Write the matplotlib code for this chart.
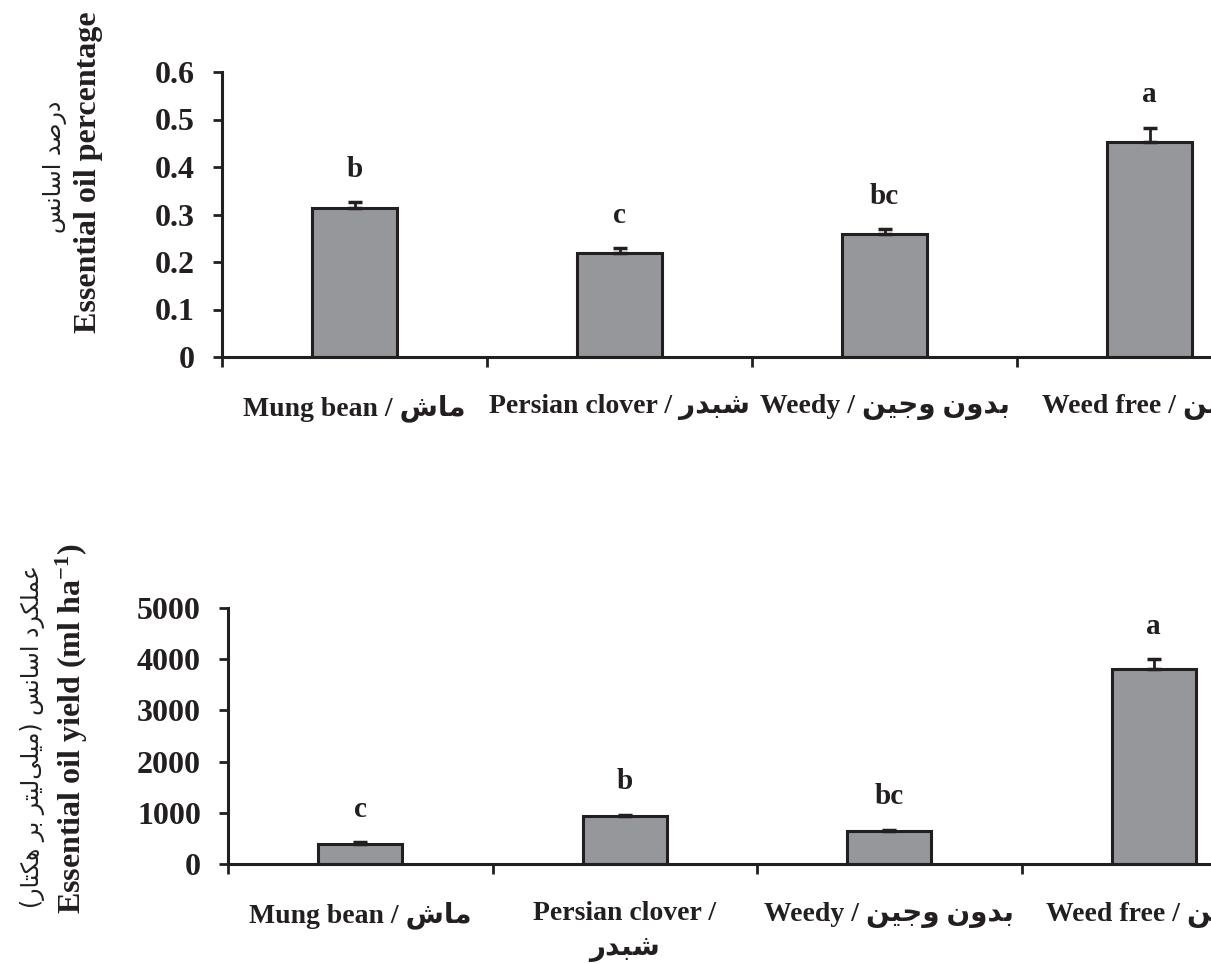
import numpy as np
import matplotlib.pyplot as plt

# treatments (English / Persian)
treatments = ['Mung bean', 'Persian clover', 'Weedy', 'Weed free']
treatments_fa = ['ماش', 'شبدر', 'بدون وجین', 'وجین']

# essential oil percentage
oil_pct = [0.314, 0.219, 0.259, 0.453]
oil_pct_se = [0.012, 0.010, 0.010, 0.030]
oil_pct_groups = ['b', 'c', 'bc', 'a']

# essential oil yield (ml/ha)
oil_yield = [385, 940, 640, 3800]
oil_yield_se = [45, 25, 30, 200]
oil_yield_groups = ['c', 'b', 'bc', 'a']

ylabel_pct = 'Essential oil percentage'
ylabel_pct_fa = 'درصد اسانس'
ylabel_yield = r'Essential oil yield (ml ha$^{-1}$)'
ylabel_yield_fa = 'عملکرد اسانس (میلی\u200cلیتر بر هکتار)'

INK = '#231f20'
BAR = '#96979b'

# matplotlib has no arabic shaping, so pick the contextual forms by hand
# letter: (isolated, final, initial, medial)
FORMS = {
    'ا': ('\uFE8D', '\uFE8E', None, None),
    'ب': ('\uFE8F', '\uFE90', '\uFE91', '\uFE92'),
    'ت': ('\uFE95', '\uFE96', '\uFE97', '\uFE98'),
    'ج': ('\uFE9D', '\uFE9E', '\uFE9F', '\uFEA0'),
    'د': ('\uFEA9', '\uFEAA', None, None),
    'ر': ('\uFEAD', '\uFEAE', None, None),
    'س': ('\uFEB1', '\uFEB2', '\uFEB3', '\uFEB4'),
    'ش': ('\uFEB5', '\uFEB6', '\uFEB7', '\uFEB8'),
    'ص': ('\uFEB9', '\uFEBA', '\uFEBB', '\uFEBC'),
    'ع': ('\uFEC9', '\uFECA', '\uFECB', '\uFECC'),
    'ک': ('\uFB8E', '\uFB8F', '\uFB90', '\uFB91'),
    'ل': ('\uFEDD', '\uFEDE', '\uFEDF', '\uFEE0'),
    'م': ('\uFEE1', '\uFEE2', '\uFEE3', '\uFEE4'),
    'ن': ('\uFEE5', '\uFEE6', '\uFEE7', '\uFEE8'),
    'ه': ('\uFEE9', '\uFEEA', '\uFEEB', '\uFEEC'),
    'و': ('\uFEED', '\uFEEE', None, None),
    'ی': ('\uFBFC', '\uFBFD', '\uFBFE', '\uFBFF'),
}


def links_next(c):
    return c in FORMS and FORMS[c][2] is not None


def shape_fa(text):
    out = []
    for i, c in enumerate(text):
        if c not in FORMS:
            out.append(c)
            continue
        prev = text[i - 1] if i > 0 else ''
        nxt = text[i + 1] if i + 1 < len(text) else ''
        p = links_next(prev)
        n = links_next(c) and nxt in FORMS
        iso, fin, ini, med = FORMS[c]
        out.append(med if (p and n) else fin if p else ini if n else iso)
    mirror = {'(': ')', ')': '('}
    # visual order, left to right
    return ''.join(mirror.get(c, c) for c in reversed(out) if c != '\u200c')


plt.rcParams['font.family'] = ['Liberation Serif', 'DejaVu Sans']
plt.rcParams['font.weight'] = 'bold'
plt.rcParams['mathtext.fontset'] = 'custom'
plt.rcParams['mathtext.rm'] = 'Liberation Serif:bold'
plt.rcParams['mathtext.it'] = 'Liberation Serif:bold'
plt.rcParams['mathtext.default'] = 'rm'
plt.rcParams['text.color'] = INK
plt.rcParams['axes.edgecolor'] = INK
plt.rcParams['xtick.color'] = INK
plt.rcParams['ytick.color'] = INK

W, H = 1211, 964
fig = plt.figure(figsize=(W / 100, H / 100), dpi=100)


def bar_panel(rect, values, errs, groups, ymax, yticks, ytick_fmt, xlabels):
    ax = fig.add_axes(rect)
    x = np.arange(len(values))
    ax.bar(x, values, width=0.317, color=BAR, edgecolor=INK, linewidth=2.2, zorder=2)
    ax.errorbar(x, values, yerr=[np.zeros(len(errs)), errs], fmt='none',
                ecolor=INK, elinewidth=2, capsize=5, capthick=2.5, zorder=3)
    for xi, v, e, g in zip(x, values, errs, groups):
        ax.annotate(g, (xi, v + e), xytext=(0, 14), textcoords='offset points',
                    ha='center', va='bottom', fontsize=21, fontweight='bold')
    ax.set_xlim(-0.5, 3.5)
    ax.set_ylim(0, ymax)
    ax.set_yticks(yticks)
    ax.set_yticklabels([ytick_fmt(t) for t in yticks])
    ax.tick_params(axis='y', direction='out', length=6.5, width=2, labelsize=23, pad=13)
    # category boundaries carry the tick marks, labels sit under the bars
    ax.set_xticks(np.arange(-0.5, 4, 1.0))
    ax.set_xticklabels([])
    ax.tick_params(axis='x', which='major', direction='out', length=7, width=2)
    ax.set_xticks(x, minor=True)
    ax.set_xticklabels(xlabels, minor=True, fontsize=20, fontweight='bold',
                       linespacing=1.5)
    ax.tick_params(axis='x', which='minor', length=0, pad=27)
    for s in ('top', 'right'):
        ax.spines[s].set_visible(False)
    for s in ('left', 'bottom'):
        ax.spines[s].set_linewidth(2.2)
    return ax


top_labels = [f'{en} / {shape_fa(fa)}' for en, fa in zip(treatments, treatments_fa)]
bottom_labels = list(top_labels)
bottom_labels[1] = f'{treatments[1]} /\n{shape_fa(treatments_fa[1])}'

ax1 = bar_panel([222 / W, 607 / H, 1060 / W, 285 / H], oil_pct, oil_pct_se,
                oil_pct_groups, 0.6, np.arange(0, 0.61, 0.1),
                lambda t: '0' if t == 0 else f'{t:.1f}', top_labels)
ax2 = bar_panel([228 / W, 100 / H, 1058 / W, 256 / H], oil_yield, oil_yield_se,
                oil_yield_groups, 5000, np.arange(0, 5001, 1000),
                lambda t: f'{t:.0f}', bottom_labels)

# two-line axis titles: Persian above English
fig.text(89 / W, 1 - 172 / H, ylabel_pct, rotation=90, ha='center', va='center',
         fontsize=23, fontweight='bold')
fig.text(55 / W, 1 - 167 / H, shape_fa(ylabel_pct_fa), rotation=90, ha='center',
         va='center', fontsize=17, fontweight='normal', family='DejaVu Sans')
fig.text(72 / W, 1 - 729 / H, ylabel_yield, rotation=90, ha='center', va='center',
         fontsize=23, fontweight='bold')
fig.text(33 / W, 1 - 737 / H, shape_fa(ylabel_yield_fa), rotation=90, ha='center',
         va='center', fontsize=17, fontweight='normal', family='DejaVu Sans')

fig.savefig('out.png', dpi=100)
